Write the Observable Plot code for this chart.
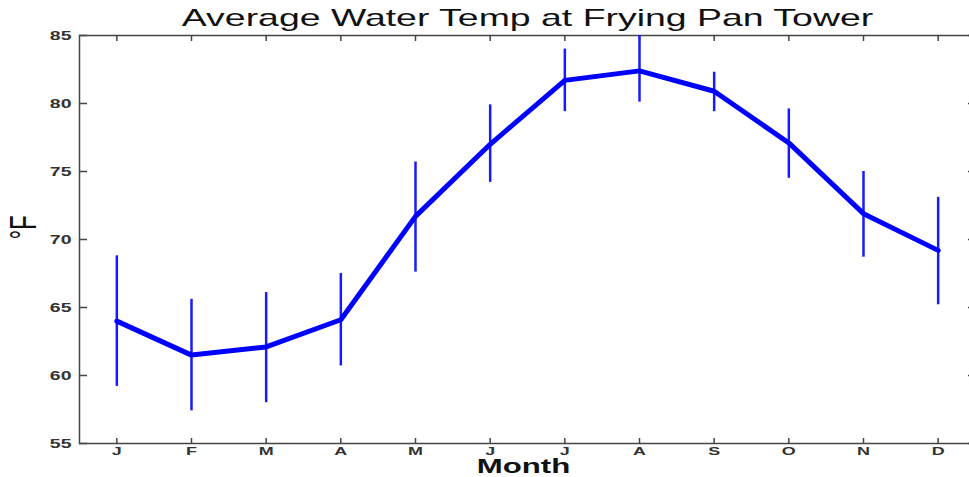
<!DOCTYPE html>
<html>
<head>
<meta charset="utf-8">
<script src="https://cdn.jsdelivr.net/npm/d3@7"></script>
<script src="https://cdn.jsdelivr.net/npm/@observablehq/plot@0.6"></script>
<style>
  html, body { margin: 0; padding: 0; background: #fff; overflow: hidden; }
  #chart svg { display: block; }
</style>
</head>
<body>
<div id="chart"></div>
<script>
const titleText = "Average Water Temp at Frying Pan Tower";
const xLabel = "Month";
const yLabel = "°F";
const monthLabels = ["J","F","M","A","M","J","J","A","S","O","N","D"];
const monthIndex = [1,2,3,4,5,6,7,8,9,10,11,12];
const meanTemp = [64.0, 61.5, 62.1, 64.1, 71.7, 77.0, 81.7, 82.4, 80.9, 77.1, 71.9, 69.2];
const lowTemp  = [59.2, 57.4, 58.0, 60.7, 67.6, 74.2, 79.4, 80.1, 79.4, 74.5, 68.7, 65.2];
const highTemp = [68.8, 65.6, 66.1, 67.5, 75.7, 79.9, 84.0, 85.0, 82.3, 79.6, 75.0, 73.1];
const yTicks = [55, 60, 65, 70, 75, 80, 85];

const rows = monthIndex.map((m, i) => ({m, t: meanTemp[i], lo: lowTemp[i], hi: highTemp[i]}));
const axisColor = "#444";
const labelColor = "#333";

const chart = Plot.plot({
  width: 969,
  height: 477,
  marginLeft: 79,
  marginRight: -6,
  marginTop: 35,
  marginBottom: 34,
  style: {fontFamily: "'Liberation Sans', Arial, sans-serif", background: "#fff"},
  x: {domain: [0.5, 12.5], axis: null, label: null},
  y: {domain: [55, 85], axis: null, label: null},
  marks: [
    Plot.frame({stroke: axisColor, strokeWidth: 1.5}),
    // inward ticks
    Plot.axisY(yTicks, {anchor: "left", label: null, tickSize: -8, tickFormat: () => "", stroke: axisColor, strokeWidth: 1.5}),
    Plot.axisY(yTicks, {anchor: "right", label: null, tickSize: -8, tickFormat: () => "", stroke: axisColor, strokeWidth: 1.5}),
    Plot.axisX(monthIndex, {anchor: "bottom", label: null, tickSize: -5, tickFormat: () => "", stroke: axisColor, strokeWidth: 1.5}),
    Plot.axisX(monthIndex, {anchor: "top", label: null, tickSize: -5, tickFormat: () => "", stroke: axisColor, strokeWidth: 1.5}),
    // labels
    Plot.axisY(yTicks, {anchor: "left", label: null, tickSize: 0, tickPadding: 8, fontSize: 12.5, fontWeight: "bold", fill: labelColor}),
    Plot.axisX(monthIndex, {anchor: "bottom", label: null, tickSize: 0, tickPadding: 3, fontSize: 11.5, fontWeight: "bold", fill: labelColor,
      tickFormat: d => monthLabels[d - 1]}),
    // data
    Plot.ruleX(rows, {x: "m", y1: "lo", y2: "hi", stroke: "#1a1aff", strokeWidth: 2.5, clip: true}),
    Plot.line(rows, {x: "m", y: "t", stroke: "#0000ff", strokeWidth: 5, strokeLinejoin: "round"}),
    // titles
    Plot.text([titleText], {frameAnchor: "top", dy: -17, fontSize: 24, fill: "#111", lineAnchor: "middle"}),
    Plot.text([xLabel], {frameAnchor: "bottom", dy: 23, dx: -4, fontSize: 20, fontWeight: "bold", fill: "#111", lineAnchor: "middle"}),
    Plot.text([yLabel], {frameAnchor: "left", dx: -55, rotate: -90, fontSize: 24, fill: "#111", lineAnchor: "middle"})
  ]
});

// The reference image is horizontally stretched: widen the glyphs the same way.
const stretch = 1.56;
d3.select(chart).selectAll("text").each(function() {
  const el = this;
  const tr = el.getAttribute("transform");
  if (tr && /translate\(/.test(tr)) {
    el.setAttribute("transform", tr.replace(/(translate\([^)]*\))/, `$1 scale(${stretch},1)`));
  } else {
    const x = +(el.getAttribute("x") || 0);
    const y = +(el.getAttribute("y") || 0);
    el.setAttribute("transform", `translate(${x},${y}) scale(${stretch},1) translate(${-x},${-y})`);
  }
});

document.getElementById("chart").appendChild(chart);
</script>
</body>
</html>
